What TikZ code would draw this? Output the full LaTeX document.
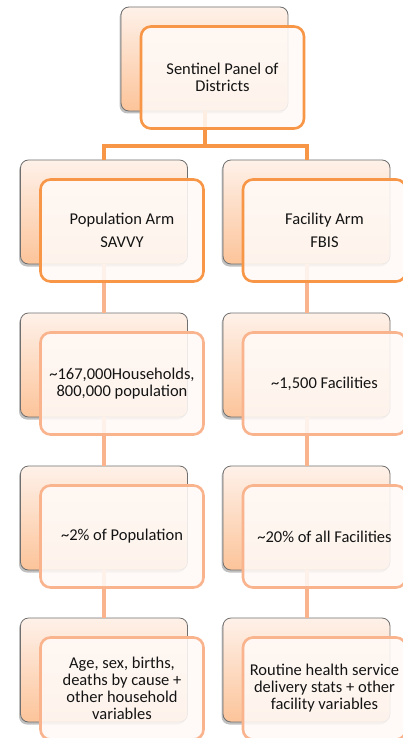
\documentclass[tikz,border=0pt]{standalone}
\usepackage{fontspec}
\setmainfont{Carlito}
\usepackage{xcolor}
\usepackage{tikz}
\usetikzlibrary{shadows}
\definecolor{accent}{HTML}{F79646}
\definecolor{softaccent}{HTML}{F9B38D}
\definecolor{peachtop}{HTML}{FEF1E9}
\definecolor{peachbot}{HTML}{FCC49A}
\definecolor{frame}{HTML}{6F6F6F}
\definecolor{card}{HTML}{FFFAF7}
\definecolor{ink}{HTML}{141414}
\tikzset{
  backcard/.style={rounded corners=8pt, draw=frame, line width=0.8pt,
    top color=peachtop, bottom color=peachbot,
    minimum width=167pt, minimum height=104pt, inner sep=0pt,
    drop shadow={shadow xshift=-1.5pt, shadow yshift=-2.5pt, opacity=0.35, fill=black!70}},
  frontcard/.style={rounded corners=10pt, draw=#1, line width=2.6pt,
    fill=card, fill opacity=0.88, text opacity=1, text=ink,
    minimum width=163pt, minimum height=102pt, inner sep=2pt,
    align=center, font=\fontsize{16.5}{17}\selectfont,
    xshift=18pt, yshift=-18.5pt},
  frontcard/.default=softaccent,
  toplink/.style={draw=accent, line width=4pt},
  sublink/.style={draw=softaccent, line width=4pt},
}

\begin{document}
\begin{tikzpicture}[x=1pt, y=-1pt]
  \fill[white] (0,0) rectangle (403,738);
  \useasboundingbox (0,0) rectangle (403,738);

  % back cards
  \node[backcard] (topback) at (204.5,59) {};
  \node[backcard] (popback) at (104,212) {};
  \node[backcard] (facback) at (306.5,212) {};
  \node[backcard] (hhback) at (104,365) {};
  \node[backcard] (nfback) at (306.5,365) {};
  \node[backcard] (shareback) at (104,518) {};
  \node[backcard] (fshareback) at (306.5,518) {};
  \node[backcard] (varback) at (104,670) {};
  \node[backcard] (fvarback) at (306.5,670) {};

  % connectors
  \coordinate (split) at (204.5,146);
  \draw[toplink] (topback.south) -- (split);
  \draw[toplink] (split) -| (popback.north);
  \draw[toplink] (split) -| (facback.north);
  \draw[sublink] (popback.south) -- (hhback.north);
  \draw[sublink] (hhback.south) -- (shareback.north);
  \draw[sublink] (shareback.south) -- (varback.north);
  \draw[sublink] (facback.south) -- (nfback.north);
  \draw[sublink] (nfback.south) -- (fshareback.north);
  \draw[sublink] (fshareback.south) -- (fvarback.north);

  % front cards
  \node[frontcard=accent] (top) at (topback) {Sentinel Panel of\\Districts};
  \node[frontcard=accent] (pop) at (popback) {Population Arm\\[6pt]SAVVY};
  \node[frontcard=accent] (fac) at (facback) {Facility Arm\\[6pt]FBIS};
  \node[frontcard] (hh) at (hhback) {\textasciitilde167,000Households,\\800,000 population};
  \node[frontcard] (nf) at (nfback) {\textasciitilde1,500 Facilities};
  \node[frontcard] (share) at (shareback) {\textasciitilde2\% of Population};
  \node[frontcard] (fshare) at (fshareback) {\textasciitilde20\% of all Facilities};
  \node[frontcard] (var) at (varback) {Age, sex, births,\\deaths by cause +\\other household\\variables};
  \node[frontcard] (fvar) at (fvarback) {Routine health service\\delivery stats + other\\facility variables};
\end{tikzpicture}
\end{document}
